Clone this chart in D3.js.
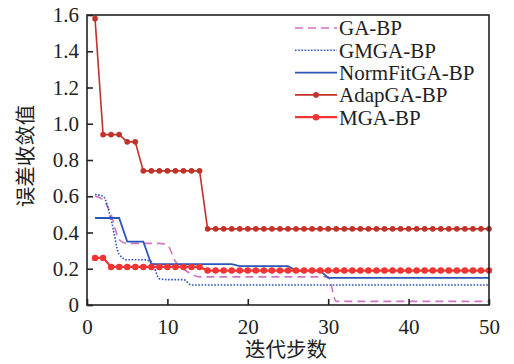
<!DOCTYPE html>
<html>
<head>
<meta charset="utf-8">
<script src="https://cdn.jsdelivr.net/npm/d3@7/dist/d3.min.js"></script>
<style>
  html, body { margin: 0; padding: 0; background: #fff; }
  svg { display: block; }
</style>
</head>
<body>
<svg id="chart" width="514" height="364"></svg>
<script>
// Iteration index
const iterations = [1,2,3,4,5,6,7,8,9,10,11,12,13,14,15,16,17,18,19,20,21,22,23,24,25,
                    26,27,28,29,30,31,32,33,34,35,36,37,38,39,40,41,42,43,44,45,46,47,48,49,50];

// Convergence error per iteration for each method
const gaBP = [0.60,0.58,0.50,0.36,0.34,0.34,0.34,0.34,0.34,0.33,0.24,0.20,0.17,0.155,0.155,
              0.155,0.155,0.155,0.155,0.155,0.155,0.155,0.155,0.155,0.155,0.155,0.155,0.155,0.155,0.155,
              0.02,0.02,0.02,0.02,0.02,0.02,0.02,0.02,0.02,0.02,0.02,0.02,0.02,0.02,0.02,0.02,0.02,0.02,0.02,0.02];
const gmgaBP = [0.61,0.60,0.47,0.28,0.25,0.25,0.25,0.24,0.145,0.14,0.14,0.14,0.11,0.11,0.11,
                0.11,0.11,0.11,0.11,0.11,0.11,0.11,0.11,0.11,0.11,0.11,0.11,0.11,0.11,0.11,
                0.11,0.11,0.11,0.11,0.11,0.11,0.11,0.11,0.11,0.11,0.11,0.11,0.11,0.11,0.11,0.11,0.11,0.11,0.11,0.11];
const normFitGaBP = [0.48,0.48,0.48,0.48,0.35,0.35,0.35,0.225,0.225,0.225,0.225,0.225,0.225,0.225,0.225,
                     0.225,0.225,0.225,0.215,0.215,0.215,0.215,0.215,0.215,0.215,0.19,0.19,0.19,0.19,0.15,
                     0.15,0.15,0.15,0.15,0.15,0.15,0.15,0.15,0.15,0.15,0.15,0.15,0.15,0.15,0.15,0.15,0.15,0.15,0.15,0.15];
const adapGaBP = [1.58,0.94,0.94,0.94,0.90,0.90,0.74,0.74,0.74,0.74,0.74,0.74,0.74,0.74,0.42,
                  0.42,0.42,0.42,0.42,0.42,0.42,0.42,0.42,0.42,0.42,0.42,0.42,0.42,0.42,0.42,
                  0.42,0.42,0.42,0.42,0.42,0.42,0.42,0.42,0.42,0.42,0.42,0.42,0.42,0.42,0.42,0.42,0.42,0.42,0.42,0.42];
const mgaBP = [0.26,0.26,0.21,0.21,0.21,0.21,0.21,0.21,0.21,0.21,0.21,0.21,0.21,0.21,0.19,
               0.19,0.19,0.19,0.19,0.19,0.19,0.19,0.19,0.19,0.19,0.19,0.19,0.19,0.19,0.19,
               0.19,0.19,0.19,0.19,0.19,0.19,0.19,0.19,0.19,0.19,0.19,0.19,0.19,0.19,0.19,0.19,0.19,0.19,0.19,0.19];

const seriesNames = ["GA-BP", "GMGA-BP", "NormFitGA-BP", "AdapGA-BP", "MGA-BP"];
const xTicks = [0, 10, 20, 30, 40, 50];
const yTicks = [0, 0.2, 0.4, 0.6, 0.8, 1.0, 1.2, 1.4, 1.6];

const SERIF = '"Liberation Serif", "Times New Roman", serif';
const CJK = '"Noto Sans CJK SC", sans-serif';

const series = [
  { name: seriesNames[0], values: gaBP,        color: "#d272c4", width: 1.6, dash: "8,5",     curve: d3.curveMonotoneX, marker: false },
  { name: seriesNames[1], values: gmgaBP,      color: "#2f52c0", width: 1.6, dash: "1.6,1.6", curve: d3.curveMonotoneX, marker: false },
  { name: seriesNames[2], values: normFitGaBP, color: "#2c55b8", width: 1.8, dash: null,      curve: d3.curveLinear,    marker: false },
  { name: seriesNames[3], values: adapGaBP,    color: "#c0322a", width: 1.6, dash: null,      curve: d3.curveLinear,    marker: true, r: 2.8 },
  { name: seriesNames[4], values: mgaBP,       color: "#f03434", width: 2.2, dash: null,      curve: d3.curveLinear,    marker: true, r: 3.2 }
];

const margin = { left: 87, top: 15, right: 25, bottom: 59 };
const W = 514, H = 364;
const svg = d3.select("#chart");

const x = d3.scaleLinear().domain([0, 50]).range([margin.left, W - margin.right]);
const y = d3.scaleLinear().domain([0, 1.6]).range([H - margin.bottom, margin.top]);

// Series lines
series.forEach(s => {
  const pts = iterations.map((it, i) => [it, s.values[i]]);
  const line = d3.line().x(d => x(d[0])).y(d => y(d[1])).curve(s.curve);
  svg.append("path")
    .attr("d", line(pts))
    .attr("fill", "none")
    .attr("stroke", s.color)
    .attr("stroke-width", s.width)
    .attr("stroke-dasharray", s.dash);
  if (s.marker) {
    svg.append("g").selectAll("circle").data(pts).join("circle")
      .attr("cx", d => x(d[0])).attr("cy", d => y(d[1]))
      .attr("r", s.r).attr("fill", s.color);
  }
});

// Frame
svg.append("rect")
  .attr("x", x(0)).attr("y", y(1.6))
  .attr("width", x(50) - x(0)).attr("height", y(0) - y(1.6))
  .attr("fill", "none").attr("stroke", "#222").attr("stroke-width", 1.6);

// Axes with inward ticks
const xAxis = svg.append("g")
  .attr("transform", `translate(0,${y(0)})`)
  .call(d3.axisBottom(x).tickValues(xTicks).tickSize(-6).tickPadding(10).tickFormat(d3.format("d")));
const yAxis = svg.append("g")
  .attr("transform", `translate(${x(0)},0)`)
  .call(d3.axisLeft(y).tickValues(yTicks).tickSize(-6).tickPadding(8)
    .tickFormat(d => d === 0 ? "0" : d3.format(".1f")(d)));

[xAxis, yAxis].forEach(g => {
  g.attr("font-family", null);
  g.select(".domain").remove();
  g.selectAll("line").attr("stroke", "#222").attr("stroke-width", 1.6);
  g.selectAll("text").attr("font-size", 21)
    .style("font-family", SERIF).attr("fill", "#222");
});
xAxis.selectAll("text").attr("dy", "0.9em");

// Axis titles
svg.append("text")
  .attr("x", 286).attr("y", 357)
  .attr("text-anchor", "middle").attr("font-size", 20.5).attr("fill", "#222")
  .style("font-family", CJK)
  .text("迭代步数");
svg.append("text")
  .attr("transform", "translate(33,156) rotate(-90)")
  .attr("text-anchor", "middle").attr("font-size", 20.5).attr("fill", "#222")
  .style("font-family", CJK)
  .text("误差收敛值");

// Legend
const legend = svg.append("g").attr("transform", "translate(295,28)");
series.forEach((s, i) => {
  const g = legend.append("g").attr("transform", `translate(0,${i * 22.3})`);
  g.append("line").attr("x1", 0).attr("x2", 42).attr("y1", 0).attr("y2", 0)
    .attr("stroke", s.color).attr("stroke-width", s.width).attr("stroke-dasharray", s.dash);
  if (s.marker) g.append("circle").attr("cx", 21).attr("cy", 0).attr("r", s.r).attr("fill", s.color);
  g.append("text").attr("x", 44).attr("y", 0).attr("dy", "0.35em")
    .attr("font-size", 21).attr("fill", "#222")
    .style("font-family", SERIF)
    .text(s.name);
});
</script>
</body>
</html>
